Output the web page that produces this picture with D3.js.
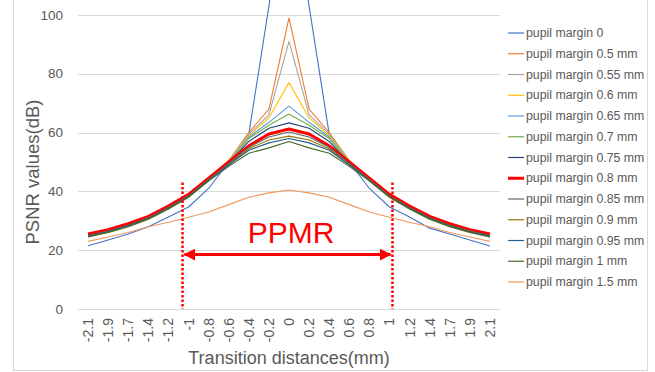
<!DOCTYPE html>
<html>
<head>
<meta charset="utf-8">
<script src="https://cdn.jsdelivr.net/npm/d3@7"></script>
<style>
  html, body { margin: 0; padding: 0; background: #fff; }
  svg { display: block; font-family: "Liberation Sans", Arial, sans-serif; }
</style>
</head>
<body>
<div id="chart"></div>
<script>
// transition distances (mm), category axis
const distances = ["-2.1","-1.9","-1.7","-1.4","-1.2","-1","-0.8","-0.6","-0.4","-0.2","0",
                   "0.2","0.4","0.6","0.8","1","1.2","1.4","1.7","1.9","2.1"];

const seriesNames = ["pupil margin 0","pupil margin 0.5 mm","pupil margin 0.55 mm","pupil margin 0.6 mm",
  "pupil margin 0.65 mm","pupil margin 0.7 mm","pupil margin 0.75 mm","pupil margin 0.8 mm",
  "pupil margin 0.85 mm","pupil margin 0.9 mm","pupil margin 0.95 mm","pupil margin 1 mm","pupil margin 1.5 mm"];

const seriesColors = ["#4472c4","#ed7d31","#a5a5a5","#ffc000","#5b9bd5","#70ad47","#264478","#ff0000",
  "#636363","#997300","#255e91","#43682b","#f1975a"];

const m0   = [21.5,23.5,25.5,28,31.3,34.7,41,50,59.5,103,150,103,59.5,50,41,34.7,31.3,27.5,25.5,23.5,21.4];
const m050 = [25,26.5,28.5,31,34.5,38.5,44,50.5,60,68,99,68,60,50.5,44,38.5,34.5,31,28.5,26.5,25];
const m055 = [25,26.5,28.5,31,34.5,38.5,44,50.5,59.5,66,91,66,59.5,50.5,44,38.5,34.5,31,28.5,26.5,25];
const m060 = [24.5,26,28,30.5,34,38,44,50.5,59,65,77,65,59,50.5,44,38,34,30.5,28,26,24.5];
const m065 = [25,26.5,28.5,31,34.5,38.5,44,50,58.5,63.5,69,63.5,58.5,50,44,38.5,34.5,31,28.5,26.5,25];
const m070 = [25,26.5,28.5,31,34.5,38.5,44,49.5,58,62.5,66.3,62.5,58,49.5,44,38.5,34.5,31,28.5,26.5,25];
const m075 = [25,26.5,28.5,31,34.5,38.5,44,49.5,57,61.5,63.3,61.5,57,49.5,44,38.5,34.5,31,28.5,26.5,25];
const m080 = [25.5,27,29,31.5,35,39,44.5,50,55.5,59.5,61.2,59.5,55.5,50,44.5,39,35,31.5,29,27,25.5];
const m085 = [25,26.5,28.5,31,34.5,38.5,44,49.5,55,58.5,60.2,58.5,55,49.5,44,38.5,34.5,31,28.5,26.5,25];
const m090 = [24.8,26.3,28.3,30.8,34.3,38.3,44,49,54.5,57.5,58.8,57.5,54.5,49,44,38.3,34.3,30.8,28.3,26.3,24.8];
const m095 = [24.8,26.3,28.3,30.8,34.3,38.3,43.8,49,54,56.5,58,56.5,54,49,43.8,38.3,34.3,30.8,28.3,26.3,24.8];
const m100 = [24.5,26,28,30.5,34,38,43.5,48.5,53,54.8,57,54.8,53,48.5,43.5,38,34,30.5,28,26,24.5];
const m150 = [23,24.5,26,28,29.5,31.2,33,35.5,38,39.5,40.5,39.5,38,35.5,33,31.2,29.5,28,26,24.5,23];

const seriesValues = [m0,m050,m055,m060,m065,m070,m075,m080,m085,m090,m095,m100,m150];

const yTicks = [0,20,40,60,80,100];

const W = 655, H = 372;
const plot = { left: 78, right: 500, top: 15, bottom: 309 };
const textColor = "#595959";
const gridColor = "#d9d9d9";

const svg = d3.select("#chart").append("svg").attr("width", W).attr("height", H);

// outer chart frame (top cropped)
svg.append("rect")
  .attr("x", 13.5).attr("y", -5).attr("width", 634).attr("height", 375.5)
  .attr("fill", "none").attr("stroke", gridColor).attr("stroke-width", 1);

const x = d3.scaleBand().domain(distances).range([plot.left, plot.right]).padding(0);
const y = d3.scaleLinear().domain([0, 100]).range([plot.bottom, plot.top]);
const cx = d => x(d) + x.bandwidth() / 2;

// gridlines
svg.append("g").selectAll("line").data(yTicks).enter().append("line")
  .attr("x1", plot.left).attr("x2", plot.right)
  .attr("y1", d => Math.round(y(d)) + 0.5).attr("y2", d => Math.round(y(d)) + 0.5)
  .attr("stroke", gridColor).attr("stroke-width", 1);

// y tick labels
svg.append("g").selectAll("text").data(yTicks).enter().append("text")
  .attr("x", 63).attr("y", d => y(d))
  .attr("text-anchor", "end").attr("dominant-baseline", "central")
  .attr("fill", textColor).style("font-size", "13.5px")
  .text(d => d);

// x tick labels (rotated)
svg.append("g").selectAll("text").data(distances).enter().append("text")
  .attr("transform", d => `translate(${cx(d)},${plot.bottom + 9}) rotate(-90)`)
  .attr("text-anchor", "end").attr("dominant-baseline", "central")
  .attr("fill", textColor).style("font-size", "14px")
  .text(d => d);

// axis titles
svg.append("text")
  .attr("transform", `translate(32,${(plot.top + plot.bottom) / 2 + 10}) rotate(-90)`)
  .attr("text-anchor", "middle").attr("dominant-baseline", "central")
  .attr("fill", textColor).style("font-size", "18.5px")
  .text("PSNR values(dB)");

svg.append("text")
  .attr("x", (plot.left + plot.right) / 2).attr("y", 358)
  .attr("text-anchor", "middle").attr("dominant-baseline", "central")
  .attr("fill", textColor).style("font-size", "18px")
  .text("Transition distances(mm)");

// series lines
const line = d3.line().x((v, i) => cx(distances[i])).y(v => y(v));
svg.append("g").selectAll("path").data(seriesValues).enter().append("path")
  .attr("d", d => line(d))
  .attr("fill", "none")
  .attr("stroke", (d, i) => seriesColors[i])
  .attr("stroke-width", (d, i) => seriesNames[i] === "pupil margin 0.8 mm" ? 3 : 1.1)
  .attr("stroke-linejoin", "round");

// legend
const legend = svg.append("g").selectAll("g").data(seriesNames).enter().append("g")
  .attr("transform", (d, i) => `translate(508,${33 + i * 20.75})`);
legend.append("line")
  .attr("x1", 0).attr("x2", 16).attr("y1", 0).attr("y2", 0)
  .attr("stroke", (d, i) => seriesColors[i])
  .attr("stroke-width", (d, i) => d === "pupil margin 0.8 mm" ? 3 : 1.2);
legend.append("text")
  .attr("x", 18).attr("y", 0).attr("dominant-baseline", "central")
  .attr("fill", textColor).style("font-size", "12.3px")
  .text(d => d);

// PPMR annotation
const red = "#ff0000";
const leftX = cx("-1") - 6, rightX = cx("1") + 3;
const ann = svg.append("g");
[leftX, rightX].forEach(xx => {
  ann.append("line")
    .attr("x1", xx).attr("x2", xx).attr("y1", y(43)).attr("y2", plot.bottom)
    .attr("stroke", red).attr("stroke-width", 2.5).attr("stroke-dasharray", "2.5,2");
});
const arrowY = y(18.5);
svg.append("defs").append("marker")
  .attr("id", "ah").attr("viewBox", "0 0 10 10").attr("refX", 9).attr("refY", 5)
  .attr("markerWidth", 4).attr("markerHeight", 4).attr("orient", "auto-start-reverse")
  .append("path").attr("d", "M0,0L10,5L0,10Z").attr("fill", red);
ann.append("line")
  .attr("x1", leftX + 2).attr("x2", rightX - 2).attr("y1", arrowY).attr("y2", arrowY)
  .attr("stroke", red).attr("stroke-width", 3)
  .attr("marker-start", "url(#ah)").attr("marker-end", "url(#ah)");
ann.append("text")
  .attr("x", cx("0") + 2).attr("y", y(22.3))
  .attr("text-anchor", "middle")
  .attr("fill", red).style("font-size", "30px")
  .text("PPMR");
</script>
</body>
</html>
